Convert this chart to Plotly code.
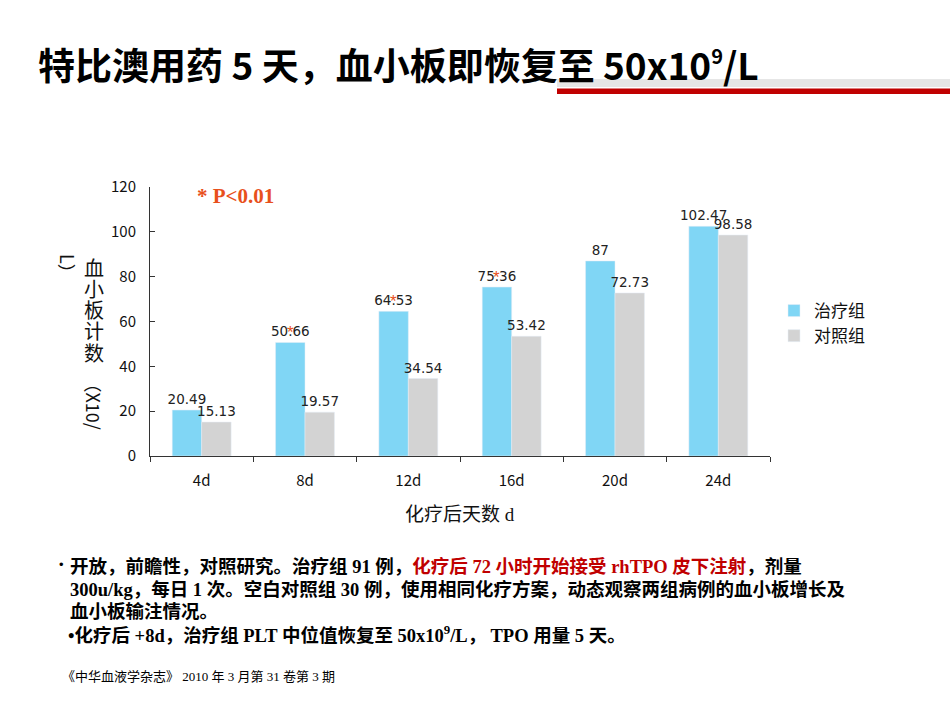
import plotly.graph_objects as go

categories = ["4d", "8d", "12d", "16d", "20d", "24d"]
treatment = [20.49, 50.66, 64.53, 75.36, 87, 102.47]
control = [15.13, 19.57, 34.54, 53.42, 72.73, 98.58]
significant = ["8d", "12d", "16d"]
series_names = ["治疗组", "对照组"]
y_ticks = [0, 20, 40, 60, 80, 100, 120]

FIG_W, FIG_H = 950, 713
L, R, T, B = 150, 180, 187, 257
PW = FIG_W - L - R
PH = FIG_H - T - B


def px(x):
    return (x - L) / PW


def py(y):
    return (FIG_H - B - y) / PH


BLUE = "#80D6F5"
GREY = "#D3D3D3"
RED = "#E8501C"
DARKRED = "#C00000"
CJK = "Noto Sans CJK SC"
MIX = "Liberation Serif, Noto Sans CJK SC"
LABEL_FONT = dict(family="DejaVu Sans", size=13.5, color="#222")

fig = go.Figure()
fig.add_trace(go.Bar(
    x=categories, y=treatment, name=series_names[0], marker_color=BLUE,
    text=[f"{v:g}" for v in treatment], textposition="outside",
    textfont=LABEL_FONT, constraintext="none", cliponaxis=False,
))
fig.add_trace(go.Bar(
    x=categories, y=control, name=series_names[1], marker_color=GREY,
    text=[f"{v:g}" for v in control], textposition="outside",
    textfont=LABEL_FONT, constraintext="none", cliponaxis=False,
))

ann = []
# significance asterisks over the treatment labels
for c, v in zip(categories, treatment):
    if c in significant:
        ann.append(dict(x=c, y=v, xref="x", yref="y", text="*", showarrow=False,
                        xshift=-15, yshift=10, yanchor="middle",
                        font=dict(family="Liberation Sans", size=17, color=RED)))

# P value note
ann.append(dict(x=px(195), y=py(196), xref="paper", yref="paper", xanchor="left",
                yanchor="middle", showarrow=False, text="<b>* P<0.01</b>",
                font=dict(family="Liberation Serif", size=21, color=RED)))

# Title
ann.append(dict(x=px(36), y=py(64), xref="paper", yref="paper", xanchor="left",
                yanchor="middle", showarrow=False,
                text="<b>特比澳用药 5 天，血小板即恢复至 50x10<sup><span style='font-size:20px'>9</span></sup>/L</b>",
                font=dict(family=CJK, size=37, color="#000")))

# x-axis title
ann.append(dict(x=0.5, y=py(514), xref="paper", yref="paper", xanchor="center",
                yanchor="middle", showarrow=False, text="化疗后天数 d",
                font=dict(family=MIX, size=19, color="#111")))

# vertical y-axis title
for i, ch in enumerate("血小板计数"):
    ann.append(dict(x=px(94), y=py(267 + i * 21.3), xref="paper", yref="paper",
                    xanchor="center", yanchor="middle", showarrow=False, text=ch,
                    font=dict(family=CJK, size=20, color="#111")))
ann.append(dict(x=px(94), y=py(372), xref="paper", yref="paper", xanchor="center",
                yanchor="top", showarrow=False, text="（X10/", textangle=90,
                font=dict(family=CJK, size=18, color="#111")))
ann.append(dict(x=px(68), y=py(252), xref="paper", yref="paper", xanchor="center",
                yanchor="top", showarrow=False, text="L）", textangle=90,
                font=dict(family=CJK, size=18, color="#111")))

# bullet text
lines = [
    (68, 566, "<b>开放，前瞻性，对照研究。治疗组 91 例，<span style='color:%s'>化疗后 72 小时开始接受 rhTPO 皮下注射</span>，剂量</b>" % DARKRED),
    (68, 589, "<b>300u/kg，每日 1 次。空白对照组 30 例，使用相同化疗方案，动态观察两组病例的血小板增长及</b>"),
    (68, 611, "<b>血小板输注情况。</b>"),
    (66, 634, "<b>•化疗后 +8d，治疗组 PLT 中位值恢复至 50x10<sup>9</sup>/L， TPO 用量 5 天。</b>"),
]
for x0, y0, t in lines:
    ann.append(dict(x=px(x0), y=py(y0), xref="paper", yref="paper", xanchor="left",
                    yanchor="middle", showarrow=False, text=t, align="left",
                    font=dict(family=MIX, size=18.5, color="#000")))
ann.append(dict(x=px(57), y=py(564), xref="paper", yref="paper", xanchor="left",
                yanchor="middle", showarrow=False, text="•",
                font=dict(family="Liberation Sans", size=13, color="#000")))

# citation
ann.append(dict(x=px(60), y=py(676), xref="paper", yref="paper", xanchor="left",
                yanchor="middle", showarrow=False,
                text="《中华血液学杂志》 2010 年 3 月第 31 卷第 3 期",
                font=dict(family=MIX, size=13, color="#000")))

shapes = [
    dict(type="rect", xref="paper", yref="paper", x0=px(557), x1=px(950),
         y0=py(87), y1=py(79), fillcolor="#E6E6E6", line_width=0, layer="below"),
    dict(type="rect", xref="paper", yref="paper", x0=px(557), x1=px(950),
         y0=py(94), y1=py(88.5), fillcolor=DARKRED, line_width=0, layer="below"),
]

fig.update_layout(
    width=FIG_W, height=FIG_H,
    margin=dict(l=L, r=R, t=T, b=B),
    paper_bgcolor="white", plot_bgcolor="white",
    barmode="group", bargap=0.43, bargroupgap=0,
    showlegend=True,
    legend=dict(x=px(774), y=py(293), xanchor="left", yanchor="top",
                font=dict(family=CJK, size=17, color="#111"),
                bgcolor="rgba(0,0,0,0)", itemwidth=30, tracegroupgap=4),
    annotations=ann, shapes=shapes,
    xaxis=dict(showline=True, linecolor="#333", linewidth=1, ticks="outside",
               tickson="boundaries", ticklen=5, tickcolor="#333", showgrid=False,
               tickfont=dict(family=CJK, size=15, color="#111"), ticklabelstandoff=11),
    yaxis=dict(range=[0, 120], tickvals=y_ticks, showline=True, linecolor="#333",
               linewidth=1, ticks="inside", ticklen=5, tickcolor="#333", showgrid=False,
               zeroline=False, tickfont=dict(family=CJK, size=15, color="#111"),
               ticklabelstandoff=10),
)

fig.write_html("out.html")
